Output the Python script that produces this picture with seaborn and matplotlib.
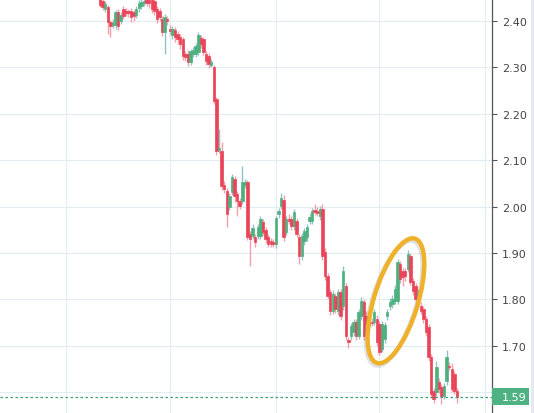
import matplotlib

matplotlib.use("Agg")

import matplotlib.pyplot as plt
import matplotlib.transforms as mtransforms
import numpy as np
import pandas as pd
import seaborn as sns
from matplotlib.patches import Ellipse, Rectangle


# OHLC prices, one candle per session
OPEN = [
    2.447, 2.443, 2.426, 2.430, 2.398, 2.391, 2.391, 2.419, 2.400, 2.426,
    2.422, 2.422, 2.422, 2.419, 2.413, 2.428, 2.432, 2.439, 2.447, 2.445,
    2.447, 2.443, 2.426, 2.422, 2.404, 2.376, 2.404, 2.383, 2.370, 2.381,
    2.372, 2.366, 2.361, 2.329, 2.329, 2.312, 2.329, 2.329, 2.333, 2.363,
    2.361, 2.329, 2.324, 2.305, 2.301, 2.232, 2.122, 2.120, 2.047, 2.034,
    1.999, 2.031, 2.060, 2.027, 2.012, 2.012, 2.047, 2.053, 1.941, 1.937,
    1.934, 1.937, 1.937, 1.967, 1.950, 1.934, 1.926, 1.924, 1.919, 1.984,
    2.001, 2.014, 1.945, 1.973, 1.973, 1.958, 1.969, 1.934, 1.893, 1.926,
    1.934, 1.969, 1.969, 1.993, 1.990, 1.980, 1.995, 1.902, 1.850, 1.816,
    1.775, 1.807, 1.775, 1.816, 1.786, 1.829, 1.712, 1.721, 1.730, 1.751,
    1.721, 1.764, 1.794, 1.764, 1.743, 1.751, 1.751, 1.758, 1.747, 1.693,
    1.715, 1.764, 1.786, 1.790, 1.797, 1.797, 1.876, 1.861, 1.861, 1.866,
    1.893, 1.840, 1.829, 1.807, 1.786, 1.779, 1.758, 1.741, 1.676, 1.603,
    1.600, 1.622, 1.611, 1.592, 1.624, 1.657, 1.650, 1.639, 1.603,
]
HIGH = [
    2.455, 2.450, 2.444, 2.435, 2.402, 2.404, 2.424, 2.426, 2.420, 2.432,
    2.428, 2.426, 2.428, 2.424, 2.432, 2.445, 2.447, 2.450, 2.452, 2.452,
    2.452, 2.448, 2.432, 2.428, 2.411, 2.415, 2.410, 2.392, 2.390, 2.388,
    2.378, 2.372, 2.366, 2.335, 2.337, 2.340, 2.344, 2.352, 2.376, 2.370,
    2.366, 2.335, 2.330, 2.318, 2.306, 2.236, 2.167, 2.140, 2.055, 2.040,
    2.030, 2.070, 2.066, 2.034, 2.018, 2.087, 2.060, 2.058, 1.948, 1.962,
    1.940, 1.962, 1.980, 1.973, 1.956, 1.940, 1.932, 1.930, 1.980, 1.996,
    2.030, 2.024, 1.980, 1.984, 1.980, 1.995, 1.976, 1.940, 1.944, 1.954,
    1.962, 1.986, 1.998, 2.005, 2.000, 2.002, 2.005, 1.910, 1.856, 1.822,
    1.820, 1.814, 1.822, 1.822, 1.872, 1.836, 1.720, 1.750, 1.758, 1.758,
    1.780, 1.805, 1.800, 1.775, 1.772, 1.760, 1.780, 1.766, 1.754, 1.754,
    1.752, 1.780, 1.802, 1.810, 1.830, 1.888, 1.882, 1.868, 1.868, 1.906,
    1.900, 1.846, 1.836, 1.822, 1.794, 1.786, 1.764, 1.746, 1.682, 1.610,
    1.668, 1.630, 1.618, 1.620, 1.690, 1.666, 1.664, 1.646, 1.610,
]
LOW = [
    2.430, 2.424, 2.420, 2.372, 2.366, 2.385, 2.383, 2.380, 2.394, 2.405,
    2.410, 2.408, 2.398, 2.400, 2.406, 2.420, 2.426, 2.433, 2.432, 2.428,
    2.418, 2.412, 2.396, 2.400, 2.368, 2.329, 2.392, 2.370, 2.362, 2.355,
    2.350, 2.340, 2.316, 2.314, 2.303, 2.305, 2.322, 2.322, 2.326, 2.342,
    2.326, 2.305, 2.298, 2.300, 2.222, 2.112, 2.115, 2.035, 2.030, 1.956,
    1.992, 2.025, 2.010, 1.980, 1.994, 2.005, 2.040, 1.927, 1.872, 1.930,
    1.912, 1.930, 1.930, 1.938, 1.922, 1.912, 1.914, 1.912, 1.910, 1.976,
    1.994, 1.926, 1.938, 1.962, 1.950, 1.950, 1.934, 1.876, 1.885, 1.918,
    1.926, 1.962, 1.962, 1.982, 1.980, 1.972, 1.886, 1.842, 1.800, 1.766,
    1.768, 1.770, 1.766, 1.756, 1.778, 1.712, 1.695, 1.712, 1.722, 1.712,
    1.714, 1.756, 1.712, 1.738, 1.735, 1.742, 1.744, 1.700, 1.680, 1.686,
    1.706, 1.756, 1.778, 1.782, 1.790, 1.790, 1.836, 1.828, 1.840, 1.858,
    1.830, 1.810, 1.790, 1.800, 1.768, 1.750, 1.722, 1.668, 1.588, 1.576,
    1.592, 1.598, 1.574, 1.585, 1.616, 1.648, 1.600, 1.596, 1.576,
]
CLOSE = [
    2.435, 2.430, 2.437, 2.398, 2.389, 2.396, 2.419, 2.389, 2.413, 2.411,
    2.417, 2.417, 2.409, 2.411, 2.426, 2.439, 2.441, 2.443, 2.439, 2.439,
    2.426, 2.422, 2.404, 2.409, 2.376, 2.409, 2.400, 2.378, 2.383, 2.366,
    2.361, 2.350, 2.324, 2.322, 2.312, 2.335, 2.337, 2.346, 2.370, 2.350,
    2.333, 2.314, 2.307, 2.312, 2.228, 2.120, 2.126, 2.044, 2.038, 1.984,
    2.023, 2.064, 2.023, 2.012, 2.001, 2.053, 2.053, 1.934, 1.930, 1.954,
    1.924, 1.956, 1.973, 1.945, 1.930, 1.919, 1.919, 1.919, 1.975, 1.990,
    2.018, 1.934, 1.973, 1.969, 1.958, 1.988, 1.941, 1.893, 1.937, 1.947,
    1.956, 1.978, 1.990, 1.988, 1.986, 1.995, 1.893, 1.850, 1.807, 1.775,
    1.812, 1.779, 1.816, 1.764, 1.861, 1.721, 1.708, 1.743, 1.751, 1.721,
    1.773, 1.797, 1.721, 1.747, 1.764, 1.749, 1.773, 1.708, 1.687, 1.747,
    1.745, 1.773, 1.794, 1.801, 1.822, 1.881, 1.844, 1.848, 1.850, 1.898,
    1.837, 1.818, 1.801, 1.816, 1.775, 1.758, 1.730, 1.676, 1.596, 1.585,
    1.654, 1.607, 1.592, 1.613, 1.676, 1.654, 1.607, 1.603, 1.590,
]

PRICE_TICKS = [1.60, 1.70, 1.80, 1.90, 2.00, 2.10, 2.20, 2.30, 2.40]
LAST_PRICE = 1.59
# session positions of the vertical grid lines
GRID_SESSIONS = [-13, 27, 68, 108, 149]
# rising leg that is circled on the chart (session, price)
HIGHLIGHT_CENTER = (114.4, 1.797)

UP_COLOR = "#4fb07f"
DOWN_COLOR = "#ea4459"
UP_WICK = "#93c2c4"
DOWN_WICK = "#f2a0ac"
GRID_COLOR = "#e2edf2"
MARKER_COLOR = "#f0b12a"

FIG_W, FIG_H = 534, 414
AXES_RIGHT = 492


def build_frame() -> pd.DataFrame:
    df = pd.DataFrame({"open": OPEN, "high": HIGH, "low": LOW, "close": CLOSE})
    df["session"] = np.arange(len(df))
    df["up"] = df["close"] >= df["open"]
    return df


def draw_candles(ax: plt.Axes, df: pd.DataFrame) -> None:
    wick_colors = np.where(df["up"], UP_WICK, DOWN_WICK)
    body_colors = np.where(df["up"], UP_COLOR, DOWN_COLOR)
    ax.vlines(df["session"], df["low"], df["high"], colors=wick_colors, linewidth=1.0, zorder=2)
    ax.bar(
        df["session"],
        (df["close"] - df["open"]).abs(),
        bottom=df[["open", "close"]].min(axis=1),
        width=0.95,
        color=body_colors,
        edgecolor=body_colors,
        linewidth=0.5,
        zorder=3,
    )


def main() -> None:
    sns.set_theme(style="white")
    plt.rcParams["font.family"] = ["DejaVu Sans"]

    df = build_frame()

    fig = plt.figure(figsize=(FIG_W / 100, FIG_H / 100), dpi=100)
    fig.patch.set_facecolor("white")
    ax = fig.add_axes([0, 0, AXES_RIGHT / FIG_W, 1])

    draw_candles(ax, df)

    px = 2.587  # pixels per session
    ax.set_xlim(-100 / px, (AXES_RIGHT - 100) / px)
    ax.set_ylim(1.5552, 2.4474)

    ax.set_xticks(GRID_SESSIONS)
    ax.set_xticklabels([])
    ax.tick_params(axis="x", length=0)

    ax.yaxis.tick_right()
    ax.set_yticks(PRICE_TICKS)
    ax.set_yticklabels([f"{v:.2f}" for v in PRICE_TICKS])
    ax.tick_params(
        axis="y", direction="out", length=3.5, width=0.8, color="#555555",
        labelcolor="#444444", labelsize=8, pad=3.5,
    )
    ax.grid(True, color=GRID_COLOR, linewidth=0.8)
    ax.set_axisbelow(True)
    for side in ["top", "left", "bottom"]:
        ax.spines[side].set_visible(False)
    ax.spines["right"].set_color("#555555")
    ax.spines["right"].set_linewidth(0.9)

    ax.axhline(LAST_PRICE, color="#3f9f74", linestyle=(0, (2, 2)), linewidth=0.9, zorder=4)

    # last price tag on the axis
    blend = mtransforms.blended_transform_factory(ax.transAxes, ax.transData)
    half = 8.5 * (2.4474 - 1.5552) / FIG_H
    ax.add_patch(
        Rectangle(
            (1.0, LAST_PRICE - half), 37 / AXES_RIGHT, 2 * half,
            transform=blend, facecolor="#4fb282", edgecolor="none",
            clip_on=False, zorder=10,
        )
    )
    ax.text(
        1.0 + 9.5 / AXES_RIGHT, LAST_PRICE, f"{LAST_PRICE:.2f}", transform=blend,
        ha="left", va="center", color="white", fontsize=8, zorder=11, clip_on=False,
    )

    # thin strip at the right edge of the widget
    fig.patches.append(
        Rectangle((531 / FIG_W, 0), 3 / FIG_W, 1, transform=fig.transFigure,
                  facecolor="#e6e9ef", edgecolor="none")
    )

    # circled rally
    cx, cy = ax.transData.transform(HIGHLIGHT_CENTER)
    ident = mtransforms.IdentityTransform()
    ax.add_patch(
        Ellipse((cx - 1.5, cy - 2), 130, 44, angle=73, transform=ident, fill=False,
                edgecolor="#888888", alpha=0.25, linewidth=3.6, zorder=5)
    )
    ax.add_patch(
        Ellipse((cx, cy), 130, 44, angle=73, transform=ident, fill=False,
                edgecolor=MARKER_COLOR, linewidth=3.2, zorder=6)
    )

    fig.savefig("out.png", dpi=100)
    plt.close(fig)


if __name__ == "__main__":
    main()
